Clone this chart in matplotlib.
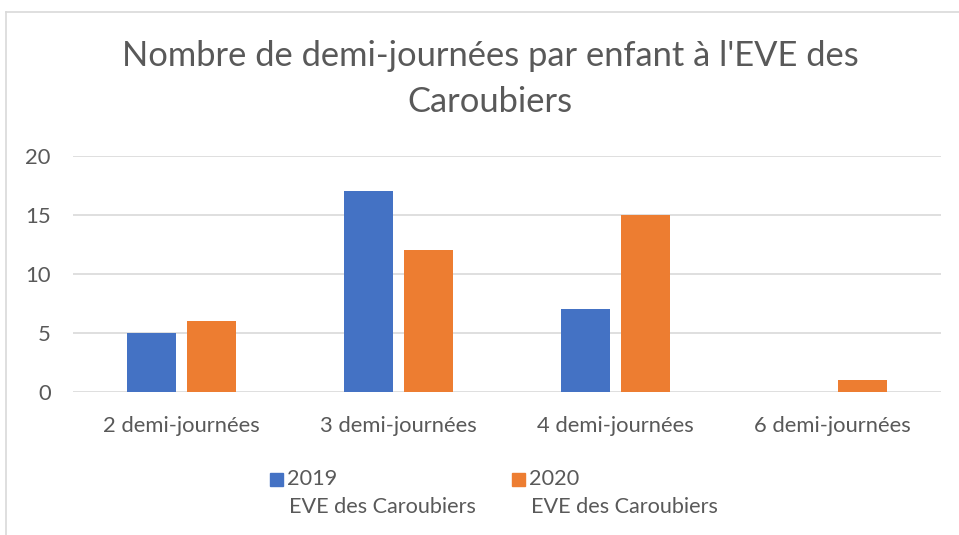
import matplotlib.pyplot as plt
import numpy as np
from matplotlib.lines import Line2D
from matplotlib.patches import Rectangle

# chart data
categories = ["2 demi-journées", "3 demi-journées", "4 demi-journées", "6 demi-journées"]
series_names = ["2019\nEVE des Caroubiers", "2020\nEVE des Caroubiers"]
values_2019 = [5, 17, 7, 0]
values_2020 = [6, 12, 15, 1]
colors = ["#4472C4", "#ED7D31"]
title = "Nombre de demi-journées par enfant à l'EVE des\nCaroubiers"

W, H = 959, 535
plt.rcParams['font.family'] = ['Lato', 'DejaVu Sans']
txtcol = "#595959"

fig = plt.figure(figsize=(W/100, H/100), dpi=100)
ax = fig.add_axes([73/W, 1-392/H, (941-73)/W, (392-156)/H])

x = np.arange(len(categories))
bw = 0.226
off = 0.14
ax.bar(x-off, values_2019, bw, color=colors[0], zorder=3)
ax.bar(x+off, values_2020, bw, color=colors[1], zorder=3)

ax.set_xlim(-0.5, len(categories)-0.5)
ax.set_ylim(0, 20)
ax.set_yticks([0, 5, 10, 15, 20])
ax.yaxis.grid(True, color="#D9D9D9", lw=1.2, zorder=0)
for s in ax.spines.values():
    s.set_visible(False)
ax.set_xticks(x)
ax.set_xticklabels(categories)
ax.tick_params(axis='both', length=0, labelsize=15.8, labelcolor=txtcol)
ax.tick_params(axis='x', pad=17)
ax.tick_params(axis='y', pad=16)

fig.text(490/W, 1-79/H, title, ha='center', va='center', fontsize=24.8,
         color=txtcol, linespacing=1.5)

# legend drawn by hand so the marker sits next to the first line
leg_x = [270, 512]
for i, name in enumerate(series_names):
    first, second = name.split("\n")
    fig.add_artist(Rectangle((leg_x[i]/W, 1-486/H), 13/W, 13/H,
                             transform=fig.transFigure, color=colors[i]))
    fig.text((leg_x[i]+17)/W, 1-479/H, first, ha='left', va='center',
             fontsize=15.6, color=txtcol)
    fig.text((leg_x[i]+19)/W, 1-507/H, second, ha='left', va='center',
             fontsize=15.6, color=txtcol)

# chart frame
fig.add_artist(Line2D([5.5/W, 5.5/W], [0, 1-11.5/H], color="#D9D9D9", lw=1.2))
fig.add_artist(Line2D([5.5/W, 1], [1-11.5/H, 1-11.5/H], color="#D9D9D9", lw=1.2))

fig.savefig("out.png", dpi=100)
